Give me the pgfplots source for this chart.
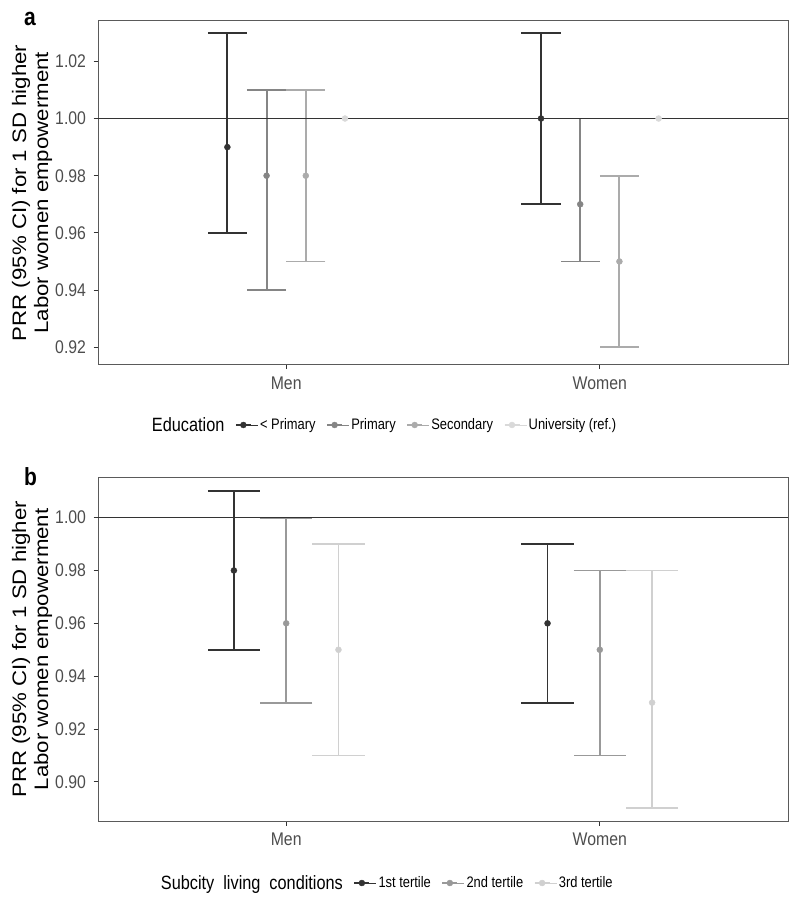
\documentclass[border=0pt]{standalone}
\usepackage{fontspec}
\setmainfont{Liberation Sans}
\usepackage{pgfplots}
\pgfplotsset{compat=1.18}
\usepackage{pgfplotstable}
\definecolor{ga1}{HTML}{333333}
\definecolor{ga2}{HTML}{858585}
\definecolor{ga3}{HTML}{ABABAB}
\definecolor{ga4}{HTML}{D9D9D9}
\definecolor{gb1}{HTML}{333333}
\definecolor{gb2}{HTML}{999999}
\definecolor{gb3}{HTML}{D0D0D0}
\definecolor{framec}{HTML}{5A5A5A}
\definecolor{ticktext}{HTML}{4D4D4D}

% Panel a: Education (x = category + dodge offset)
\pgfplotstableread{
x y lo hi
0.8125 0.99 0.96 1.03
1.8125 1.00 0.97 1.03
}\edA
\pgfplotstableread{
x y lo hi
0.9375 0.98 0.94 1.01
1.9375 0.97 0.95 1.00
}\edB
\pgfplotstableread{
x y lo hi
1.0625 0.98 0.95 1.01
2.0625 0.95 0.92 0.98
}\edC
\pgfplotstableread{
x y lo hi
1.1875 1.00 1.00 1.00
2.1875 1.00 1.00 1.00
}\edD
% Panel b: Subcity living conditions
\pgfplotstableread{
x y lo hi
0.8333 0.98 0.95 1.01
1.8333 0.96 0.93 0.99
}\tA
\pgfplotstableread{
x y lo hi
1.0000 0.96 0.93 1.00
2.0000 0.95 0.91 0.98
}\tB
\pgfplotstableread{
x y lo hi
1.1667 0.95 0.91 0.99
2.1667 0.93 0.89 0.98
}\tC

\pgfplotsset{
  panel/.style={
    scale only axis, width=690pt,
    xmin=0.4, xmax=2.6, xtick={1,2}, xticklabels={Men,Women},
    axis line style={framec, line width=1pt},
    xtick pos=left, ytick pos=left,
    tick align=outside, major tick length=4.5pt,
    tick style={black!80, line width=0.8pt},
    /pgf/number format/assume math mode=true,
    tick label style={font=\fontsize{15.8}{17}\selectfont, text=ticktext, yscale=1.16},
    yticklabel style={xshift=-4pt, /pgf/number format/.cd, fixed, fixed zerofill, precision=2},
    xticklabel style={yshift=-3pt},
    every axis y label/.style={at={(axis description cs:-0.0957,0.5)}, rotate=90, anchor=center},
    ylabel={PRR (95\% CI) for 1 SD higher\\Labor women empowerment},
    ylabel style={align=center, font=\fontsize{19.5}{22}\selectfont, xscale=1.14},
    legend columns=-1,
    legend cell align=left,
    legend style={draw=none, fill=none, inner sep=0pt, font=\fontsize{12.9}{14}\selectfont,
      nodes={yscale=1.18},
      /tikz/every even column/.append style={column sep=8.5pt}},
  },
  eb/.style n args={2}{only marks, mark=*, mark size=3pt, color=#1,
    error bars/y dir=both, error bars/y explicit,
    error bars/error mark=|,
    error bars/error bar style={line width=1.9pt, color=#1},
    error bars/error mark options={line width=1.9pt, mark size=#2, color=#1}},
  legkey/.style={legend image code/.code={
    \path (0pt,0pt) -- (22pt,0pt);
    \draw[line width=1.9pt] (0pt,0pt) -- (15pt,0pt);
    \fill (7.5pt,0pt) circle (3pt);}},
}

\begin{document}
\begin{tikzpicture}
\useasboundingbox (0pt,0pt) rectangle (800pt,-904pt);

% ---------------- Panel a ----------------
\begin{axis}[panel, at={(98pt,-364.7pt)}, anchor=south west, height=343.7pt,
  ymin=0.9139, ymax=1.0341, ytick={0.92,0.94,0.96,0.98,1.00,1.02},
  legend style={at={(axis description cs:0.075,-0.1754)}, anchor=west}]
\addplot[forget plot, eb={ga1}{19.6pt}] table[x=x, y=y, y error plus expr=\thisrow{hi}-\thisrow{y}, y error minus expr=\thisrow{y}-\thisrow{lo}] {\edA};
\addplot[forget plot, eb={ga2}{19.6pt}] table[x=x, y=y, y error plus expr=\thisrow{hi}-\thisrow{y}, y error minus expr=\thisrow{y}-\thisrow{lo}] {\edB};
\addplot[forget plot, eb={ga3}{19.6pt}] table[x=x, y=y, y error plus expr=\thisrow{hi}-\thisrow{y}, y error minus expr=\thisrow{y}-\thisrow{lo}] {\edC};
\addplot[forget plot, eb={ga4}{19.6pt}] table[x=x, y=y, y error plus expr=\thisrow{hi}-\thisrow{y}, y error minus expr=\thisrow{y}-\thisrow{lo}] {\edD};
\addplot[forget plot, line width=1.1pt, color=black!80] coordinates {(0.4,1) (2.6,1)};
\addlegendimage{empty legend}
\addlegendentry[font=\fontsize{16.3}{18}\selectfont]{Education}
\addlegendimage{legkey, ga1}
\addlegendentry{< Primary}
\addlegendimage{legkey, ga2}
\addlegendentry{Primary}
\addlegendimage{legkey, ga3}
\addlegendentry{Secondary}
\addlegendimage{legkey, ga4}
\addlegendentry{University (ref.)}
\end{axis}

% ---------------- Panel b ----------------
\begin{axis}[panel, at={(98pt,-821pt)}, anchor=south west, height=343.3pt,
  ymin=0.8852, ymax=1.0151, ytick={0.90,0.92,0.94,0.96,0.98,1.00},
  legend style={at={(axis description cs:0.088,-0.1806)}, anchor=west}]
\addplot[forget plot, eb={gb1}{26.1pt}] table[x=x, y=y, y error plus expr=\thisrow{hi}-\thisrow{y}, y error minus expr=\thisrow{y}-\thisrow{lo}] {\tA};
\addplot[forget plot, eb={gb2}{26.1pt}] table[x=x, y=y, y error plus expr=\thisrow{hi}-\thisrow{y}, y error minus expr=\thisrow{y}-\thisrow{lo}] {\tB};
\addplot[forget plot, eb={gb3}{26.1pt}] table[x=x, y=y, y error plus expr=\thisrow{hi}-\thisrow{y}, y error minus expr=\thisrow{y}-\thisrow{lo}] {\tC};
\addplot[forget plot, line width=1.1pt, color=black!80] coordinates {(0.4,1) (2.6,1)};
\addlegendimage{empty legend}
\addlegendentry[font=\fontsize{16.3}{18}\selectfont]{Subcity\hspace{9pt}living\hspace{9pt}conditions}
\addlegendimage{legkey, gb1}
\addlegendentry{1st tertile}
\addlegendimage{legkey, gb2}
\addlegendentry{2nd tertile}
\addlegendimage{legkey, gb3}
\addlegendentry{3rd tertile}
\end{axis}

\node[anchor=base west, inner sep=0pt, font=\bfseries\fontsize{21}{21}\selectfont, yscale=1.18] at (24pt,-26pt) {a};
\node[anchor=base west, inner sep=0pt, font=\bfseries\fontsize{21}{21}\selectfont, yscale=1.18] at (24pt,-485pt) {b};
\end{tikzpicture}
\end{document}
